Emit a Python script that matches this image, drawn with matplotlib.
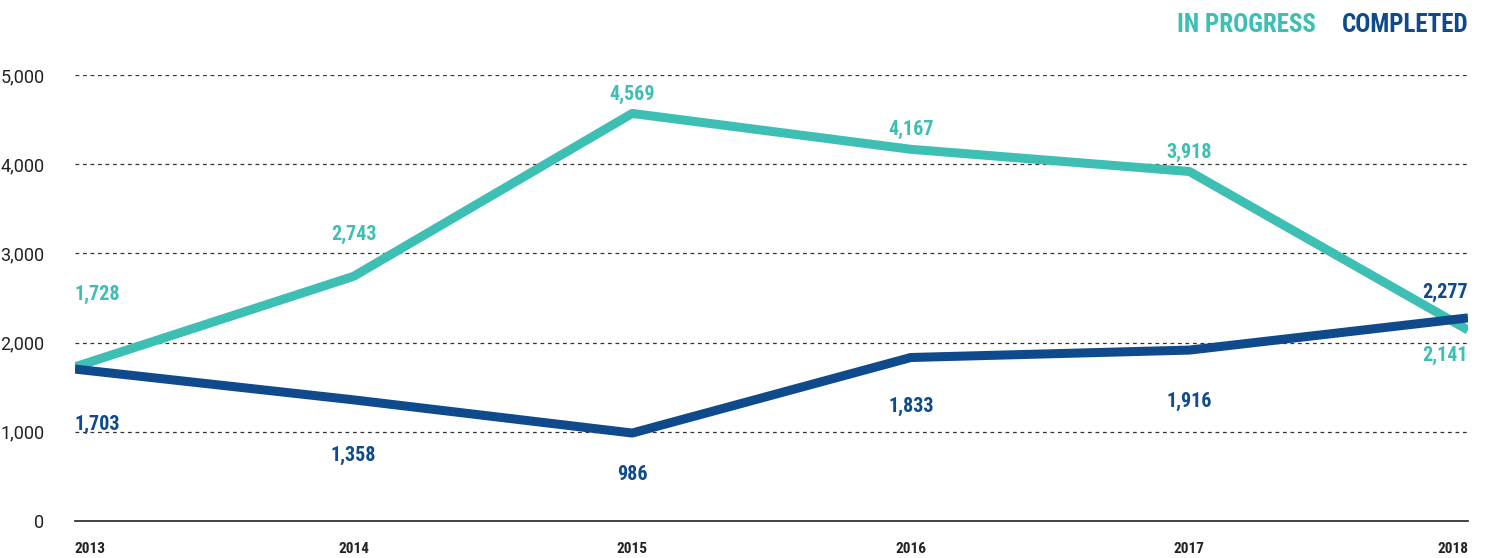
import matplotlib
matplotlib.use("Agg")
from matplotlib import pyplot as plt
from matplotlib import font_manager

years = [2013, 2014, 2015, 2016, 2017, 2018]
in_progress = [1728, 2743, 4569, 4167, 3918, 2141]
completed = [1703, 1358, 986, 1833, 1916, 2277]

teal = "#3dbfb3"
blue = "#0e4a8c"

names = {f.name for f in font_manager.fontManager.ttflist}
narrow = "DejaVu Sans"
for cand in ["Roboto Condensed", "Barlow Condensed", "Barlow Semi Condensed",
             "Liberation Sans Narrow", "Oswald"]:
    if cand in names:
        narrow = cand
        break

fig = plt.figure(figsize=(14.91, 5.58), dpi=100)
ax = fig.add_axes([0.0503, 0.0663, 0.9343, 0.7993])

ax.plot(years, in_progress, color=teal, lw=6.5, solid_capstyle="butt", zorder=3)
ax.plot(years, completed, color=blue, lw=6.5, solid_capstyle="butt", zorder=3)

ax.set_xlim(2013, 2018)
ax.set_ylim(0, 5000)

for v in range(1000, 6000, 1000):
    ax.axhline(v, color="#333333", lw=0.9, ls=(0, (3, 3)), zorder=1)

for s in ["top", "right", "left"]:
    ax.spines[s].set_visible(False)
ax.spines["bottom"].set_color("#222222")
ax.spines["bottom"].set_linewidth(1.2)

ax.set_yticks(range(0, 6000, 1000))
ax.set_yticklabels([f"{v:,}" for v in range(0, 6000, 1000)],
                   fontsize=13, color="#222222", family="Roboto")
ax.tick_params(axis="y", length=0, pad=22)
ax.set_xticks(years)
ax.set_xticklabels([str(y) for y in years], fontsize=11, fontweight="bold",
                   color="#222222", family=narrow)
ax.tick_params(axis="x", length=0, pad=15)
xl = ax.get_xticklabels()
xl[0].set_ha("left")
xl[-1].set_ha("right")

# label offsets in points (dx, dy) and alignment
ip_off = [(0, 52), (0, 30), (0, 14), (0, 14), (0, 14), (0, -18)]
cp_off = [(0, -40), (0, -40), (0, -30), (0, -35), (0, -37), (0, 18)]
ha = ["left", "center", "center", "center", "center", "right"]

for i, y in enumerate(years):
    ax.annotate(f"{in_progress[i]:,}", (y, in_progress[i]), xytext=ip_off[i],
                textcoords="offset points", ha=ha[i], va="center",
                color=teal, fontsize=14.5, fontweight="bold", family=narrow,
                annotation_clip=False)
    ax.annotate(f"{completed[i]:,}", (y, completed[i]), xytext=cp_off[i],
                textcoords="offset points", ha=ha[i], va="center",
                color=blue, fontsize=14.5, fontweight="bold", family=narrow,
                annotation_clip=False)

fig.text(0.7894, 0.955, "IN PROGRESS", color=teal, fontsize=18, fontweight="bold",
         family=narrow, ha="left", va="center")
fig.text(0.9846, 0.955, "COMPLETED", color=blue, fontsize=18, fontweight="bold",
         family=narrow, ha="right", va="center")

fig.savefig("out.png", dpi=100)
